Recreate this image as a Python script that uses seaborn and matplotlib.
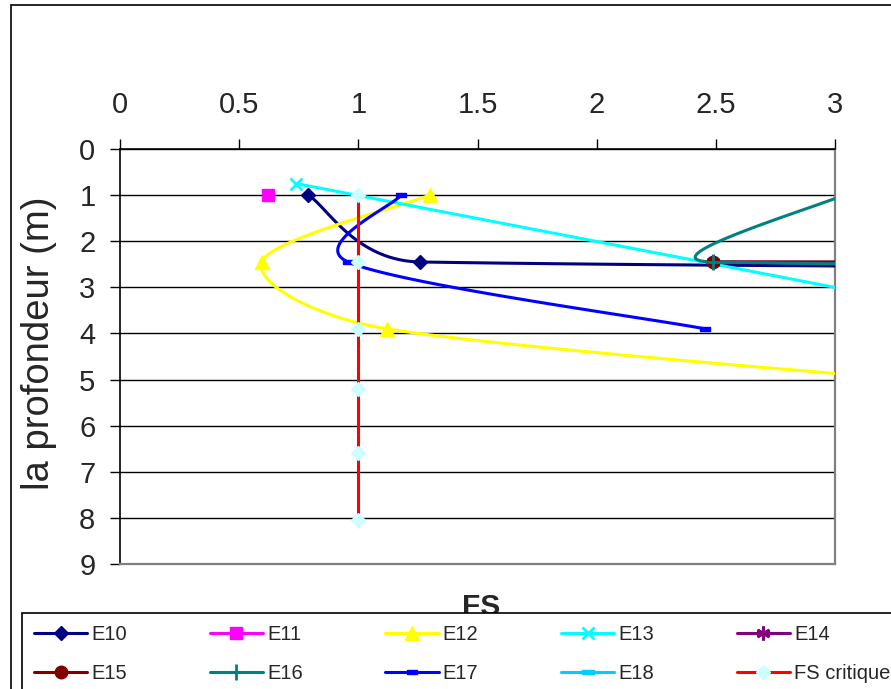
import numpy as np
import matplotlib
matplotlib.use("Agg")
import matplotlib.pyplot as plt
from matplotlib.lines import Line2D
from matplotlib.patches import Rectangle
import seaborn as sns

# FS values (x) and depth in m (y) for each borehole.
# Points past FS = 3 are off the visible plot, only the line leaving the frame shows.
e10_fs = [0.79, 1.26, 20.0]
e10_z = [1.0, 2.45, 2.6]
e11_fs = [0.62]
e11_z = [1.0]
e12_fs = [1.30, 0.595, 1.12, 4.0]
e12_z = [1.0, 2.45, 3.9, 5.3]
e13_fs = [0.74, 3.5]
e13_z = [0.75, 3.5]
e14_fs = [2.49, 20.0]
e14_z = [2.45, 2.55]
e15_fs = [2.49, 20.0]
e15_z = [2.45, 2.55]
e16_fs = [3.07, 2.49, 20.0]
e16_z = [0.93, 2.45, 2.55]
e17_fs = [1.18, 0.957, 2.455]
e17_z = [1.0, 2.45, 3.9]
e18_fs = []
e18_z = []
crit_fs = [1.0, 1.0, 1.0, 1.0, 1.0, 1.0]
crit_z = [1.0, 2.45, 3.9, 5.2, 6.6, 8.05]

x_ticks = [0, 0.5, 1, 1.5, 2, 2.5, 3]
x_tick_labels = ["0", "0.5", "1", "1.5", "2", "2.5", "3"]
y_ticks = list(range(10))

bar = [(-1, -0.4), (1, -0.4), (1, 0.4), (-1, 0.4), (-1, -0.4)]
long_bar = [(-1, -0.3), (1, -0.3), (1, 0.3), (-1, 0.3), (-1, -0.3)]

# name, fs, depth, line colour, marker, marker face, marker size, marker edge width
series = [
    ("E10", e10_fs, e10_z, "#000080", "D", "#000080", 7, 1),
    ("E11", e11_fs, e11_z, "#FF00FF", "s", "#FF00FF", 9, 1),
    ("E12", e12_fs, e12_z, "#FFFF00", "^", "#FFFF00", 9.5, 1),
    ("E13", e13_fs, e13_z, "#00FFFF", "x", "#00FFFF", 9, 2),
    ("E14", e14_fs, e14_z, "#800080", (6, 2, 0), "#800080", 10, 2),
    ("E15", e15_fs, e15_z, "#800000", "o", "#800000", 9, 1),
    ("E16", e16_fs, e16_z, "#008080", "+", "#008080", 11, 2),
    ("E17", e17_fs, e17_z, "#0000FF", bar, "#0000FF", 7, 1),
    ("E18", e18_fs, e18_z, "#00CCFF", long_bar, "#00CCFF", 9, 1),
    ("FS critique", crit_fs, crit_z, "#FF0000", "D", "#CCFFFF", 7, 1),
]


def excel_smooth(ax, xs, ys, n=60):
    """Excel-like smoothed line: bezier segments in screen space."""
    pts = ax.transData.transform(np.column_stack([xs, ys]))
    m = len(pts)
    if m < 3:
        return np.asarray(xs), np.asarray(ys)
    out = [pts[0]]
    t = np.linspace(0, 1, n)[1:, None]
    for i in range(m - 1):
        p0 = pts[i - 1] if i > 0 else pts[i]
        p1, p2 = pts[i], pts[i + 1]
        p3 = pts[i + 2] if i + 2 < m else pts[i + 1]
        seg = np.linalg.norm(p2 - p1)
        t1, t2 = p2 - p0, p3 - p1
        f1 = min(1 / 6, 0.5 * seg / np.linalg.norm(t1))
        f2 = min(1 / 6, 0.5 * seg / np.linalg.norm(t2))
        c1, c2 = p1 + t1 * f1, p2 - t2 * f2
        bez = ((1 - t) ** 3 * p1 + 3 * (1 - t) ** 2 * t * c1
               + 3 * (1 - t) * t ** 2 * c2 + t ** 3 * p2)
        out.extend(bez)
    back = ax.transData.inverted().transform(np.array(out))
    return back[:, 0], back[:, 1]


sns.set_style("white")
plt.rcParams["font.family"] = ["Liberation Sans", "DejaVu Sans"]

W, H = 891, 689
fig = plt.figure(figsize=(W / 100, H / 100), dpi=100)
ax = fig.add_axes([120 / W, 1 - 564 / H, 715 / W, 415 / H])
ax.set_xlim(0, 3)
ax.set_ylim(9, 0)

for name, fs, z, col, mk, mfc, ms, mew in series:
    if len(fs) == 0:
        continue
    sx, sy = excel_smooth(ax, fs, z)
    if len(fs) > 1:
        sns.lineplot(x=sx, y=sy, ax=ax, color=col, linewidth=2.2,
                     sort=False, estimator=None, zorder=3)
    sns.lineplot(x=fs, y=z, ax=ax, color=col, linestyle="none", marker=mk,
                 markersize=ms, markerfacecolor=mfc, markeredgecolor=mfc,
                 markeredgewidth=mew, sort=False, estimator=None, zorder=4)

ax.xaxis.tick_top()
ax.set_xticks(x_ticks, x_tick_labels)
ax.set_yticks(y_ticks)
ax.tick_params(axis="x", which="both", direction="out", length=7.2, width=1,
               color="black", pad=14.5, labelsize=21, top=True, bottom=False)
ax.tick_params(axis="y", direction="out", length=7.2, width=1,
               color="black", pad=10.5, labelsize=21, left=True)
ax.set_xlabel("")
ax.set_ylabel("")
ax.yaxis.grid(True, color="black", linewidth=1)
ax.xaxis.grid(False)
ax.set_axisbelow(True)
for side in ["top", "left"]:
    ax.spines[side].set_color("black")
    ax.spines[side].set_linewidth(1.2)
for side in ["right", "bottom"]:
    ax.spines[side].set_color("#808080")
    ax.spines[side].set_linewidth(1.6)

fig.text(39 / W, 1 - 343 / H, "la profondeur (m)", rotation=90,
         ha="center", va="center", fontsize=27.5)
fig.text(481 / W, 1 - 615 / H, "FS", ha="center", va="baseline",
         fontsize=21.5, fontweight="bold")

# chart frame, cut by the image edges on the right and bottom
fig.add_artist(Rectangle((11 / W, -1), 2, 2 - 5 / H, transform=fig.transFigure,
                         fill=False, edgecolor="black", linewidth=1.2))

handles = {}
for name, fs, z, col, mk, mfc, ms, mew in series:
    handles[name] = Line2D([], [], color=col, linewidth=2.2, marker=mk,
                           markersize=ms, markerfacecolor=mfc,
                           markeredgecolor=mfc, markeredgewidth=mew)
# legend fills column by column, so interleave the two rows
order = ["E10", "E15", "E11", "E16", "E12", "E17", "E13", "E18", "E14", "FS critique"]
leg = fig.legend([handles[k] for k in order], order, loc="upper left",
                 bbox_to_anchor=(22 / W, 1 - 613 / H), ncol=5, fontsize=14.5,
                 frameon=True, fancybox=False, edgecolor="black", framealpha=1,
                 handlelength=2.65, handletextpad=0.2, columnspacing=4.1,
                 borderpad=0.6, labelspacing=1.0, borderaxespad=0, numpoints=1)
leg.get_frame().set_linewidth(1.2)

fig.savefig("out.png", dpi=100)
